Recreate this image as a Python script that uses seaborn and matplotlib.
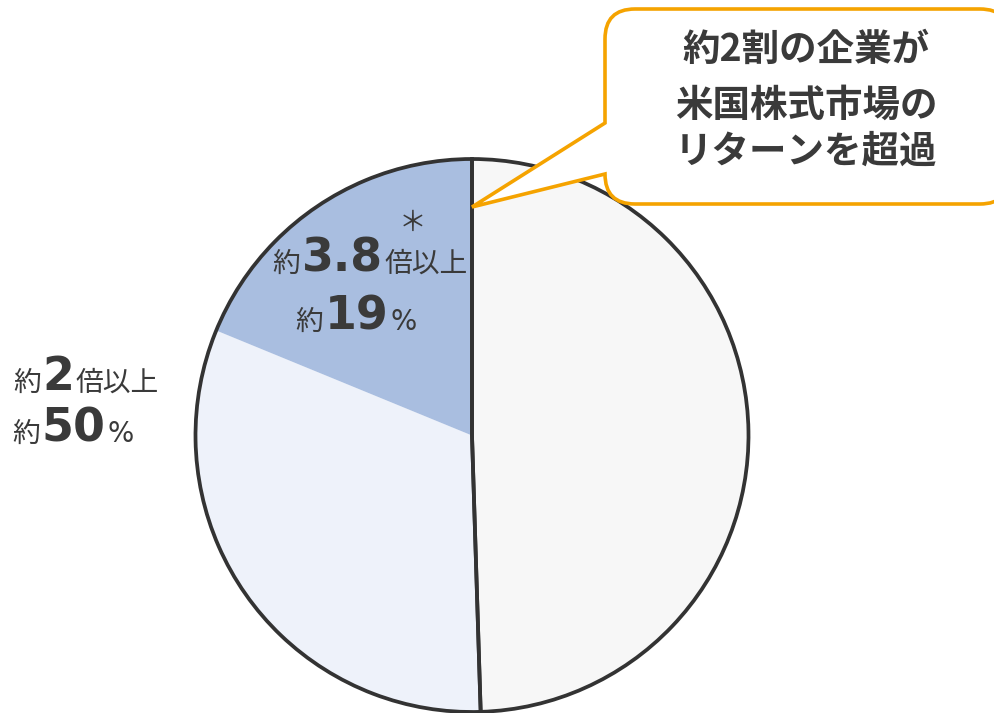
import matplotlib
matplotlib.use("Agg")
import matplotlib.pyplot as plt
import seaborn as sns
from matplotlib.path import Path
from matplotlib.patches import PathPatch
from matplotlib.offsetbox import TextArea, HPacker, AnnotationBbox

sns.set_theme(style="white")
plt.rcParams['font.family'] = ['Noto Sans CJK JP', 'DejaVu Sans']

# ---- data ----
categories = ["その他", "約2倍以上", "約3.8倍以上"]
shares = [49.5, 31.7, 18.8]
slice_colors = ["#F7F7F7", "#EEF2FA", "#A9BEE0"]
outline_groups = [49.5, 50.5]          # grey vs. "約2倍以上" (50%)
callout_lines = ["約2割の企業が", "米国株式市場の", "リターンを超過"]

TXT = "#3A3A3A"
ORANGE = "#F5A300"
EDGE = "#333333"

W, H = 995, 713
fig = plt.figure(figsize=(W / 100, H / 100), dpi=100)
fig.patch.set_facecolor("white")

# pie axes
cx, cy, r = 472, 435.5, 276.5
m = 1.02
ax = fig.add_axes([(cx - r * m) / W, (H - cy - r * m) / H, 2 * r * m / W, 2 * r * m / H])
ax.pie(shares, colors=slice_colors, startangle=90, counterclock=False,
       radius=1, wedgeprops=dict(linewidth=0, edgecolor="none"))
ax.pie(outline_groups, colors=["none", "none"], startangle=90, counterclock=False,
       radius=1, wedgeprops=dict(linewidth=2.7, edgecolor=EDGE, fill=False))
ax.set_xlim(-m, m)
ax.set_ylim(-m, m)
ax.set_aspect("equal")
ax.axis("off")

# overlay axes in pixel coordinates (y down)
ov = fig.add_axes([0, 0, 1, 1], zorder=5)
ov.set_xlim(0, W)
ov.set_ylim(H, 0)
ov.axis("off")
ov.patch.set_alpha(0)

# callout shape
x0, x1, y0, y1, rr = 605, 1010, 9, 204, 30
tip = (472, 207)
verts = [
    (x0 + rr, y0), (x1 - rr, y0), (x1, y0), (x1, y0 + rr),
    (x1, y1 - rr), (x1, y1), (x1 - rr, y1),
    (x0 + rr, y1), (x0, y1), (x0, y1 - rr),
    tip, (x0, 123), (x0, y0 + rr), (x0, y0), (x0 + rr, y0), (x0 + rr, y0),
]
codes = [
    Path.MOVETO, Path.LINETO, Path.CURVE3, Path.CURVE3,
    Path.LINETO, Path.CURVE3, Path.CURVE3,
    Path.LINETO, Path.CURVE3, Path.CURVE3,
    Path.LINETO, Path.LINETO, Path.LINETO, Path.CURVE3, Path.CURVE3, Path.CLOSEPOLY,
]
ov.add_patch(PathPatch(Path(verts, codes), facecolor="white", edgecolor=ORANGE,
                       linewidth=2.6, joinstyle="miter"))

callout_y = [49, 105, 151]
for t, yy in zip(callout_lines, callout_y):
    ov.text(806, yy, t, ha="center", va="center", fontsize=27, fontweight="bold",
            color=TXT, family=["Noto Sans CJK JP"])


def mixed(parts, x, y, align=(0.5, 0.5)):
    areas = []
    for txt, size, bold in parts:
        fam = ["DejaVu Sans"] if txt[0].isascii() else ["Noto Sans CJK JP"]
        areas.append(TextArea(txt, textprops=dict(fontsize=size, color=TXT,
                                                  fontweight="bold" if bold else "normal",
                                                  family=fam)))
    box = HPacker(children=areas, align="baseline", pad=0, sep=1)
    ab = AnnotationBbox(box, (x, y), xycoords="data", box_alignment=align,
                        frameon=False, pad=0)
    ov.add_artist(ab)


big, small, pct = 33, 20, 20
mixed([("約", small, False), ("3.8", big, True), ("倍以上", small, False)], 370, 259)
mixed([("約", small, False), ("19", big, True), ("%", pct, False)], 356, 317)
mixed([("約", small, False), ("2", big, True), ("倍以上", small, False)], 86, 378)
mixed([("約", small, False), ("50", big, True), ("%", pct, False)], 73, 429)
ov.text(413, 223, "＊", ha="center", va="center", fontsize=20, color=TXT,
        family=["Noto Sans CJK JP"])

fig.savefig("out.png", dpi=100)
